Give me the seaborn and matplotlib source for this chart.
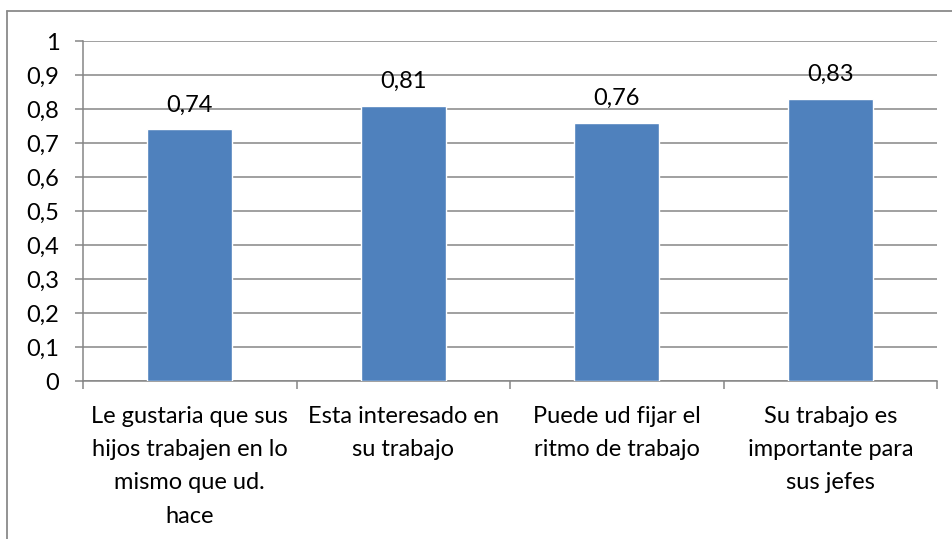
import matplotlib
matplotlib.use("Agg")
import matplotlib.pyplot as plt
from matplotlib.lines import Line2D
from matplotlib.ticker import FixedLocator, FuncFormatter
import seaborn as sns
import pandas as pd

categories = [
    "Le gustaria que sus\nhijos trabajen en lo\nmismo que ud.\nhace",
    "Esta interesado en\nsu trabajo",
    "Puede ud fijar el\nritmo de trabajo",
    "Su trabajo es\nimportante para\nsus jefes",
]
values = [0.74, 0.81, 0.76, 0.83]
y_ticks = [0, 0.1, 0.2, 0.3, 0.4, 0.5, 0.6, 0.7, 0.8, 0.9, 1]

sns.set_theme(style="white")
plt.rcParams["font.family"] = ["Lato", "DejaVu Sans"]

W, H = 952, 539
fig = plt.figure(figsize=(W / 100, H / 100), dpi=100)
fig.patch.set_facecolor("white")

# outer chart frame (top and left edges)
frame_color = "#8a8a8a"
fig.add_artist(Line2D([7 / W, 1.0], [1 - 11 / H, 1 - 11 / H], color=frame_color, lw=1.3, transform=fig.transFigure))
fig.add_artist(Line2D([7 / W, 7 / W], [1 - 11 / H, 0.0], color=frame_color, lw=1.3, transform=fig.transFigure))

left, right, top, bottom = 83, 937, 41, 381
ax = fig.add_axes([left / W, 1 - bottom / H, (right - left) / W, (bottom - top) / H])

df = pd.DataFrame({"cat": categories, "val": values})
sns.barplot(data=df, x="cat", y="val", color="#4F81BD", saturation=1, width=0.4, ax=ax, zorder=3)

ax.set_xlim(-0.5, len(categories) - 0.5)
ax.set_ylim(0, 1)
ax.set_xlabel("")
ax.set_ylabel("")

grid_color = "#868686"
ax.yaxis.set_major_locator(FixedLocator(y_ticks))
ax.yaxis.set_major_formatter(FuncFormatter(lambda v, p: f"{v:g}".replace(".", ",")))
ax.grid(axis="y", color=grid_color, lw=1.1, zorder=0)
ax.set_axisbelow(True)

for s in ["top", "right"]:
    ax.spines[s].set_visible(False)
for s in ["left", "bottom"]:
    ax.spines[s].set_color(grid_color)
    ax.spines[s].set_linewidth(1.1)

ax.tick_params(axis="y", which="major", length=6, width=1.1, color=grid_color, direction="out",
               labelsize=17, labelcolor="black", pad=11, left=True)
# category boundaries carry the tick marks; labels sit at the centres
ax.xaxis.set_minor_locator(FixedLocator([i - 0.5 for i in range(len(categories) + 1)]))
ax.tick_params(axis="x", which="minor", length=6, width=1.1, color=grid_color, direction="out", bottom=True)
ax.tick_params(axis="x", which="major", length=0, labelsize=17, labelcolor="black", pad=18)
for lbl in ax.get_xticklabels():
    lbl.set_horizontalalignment("center")
    lbl.set_multialignment("center")
    lbl.set_linespacing(1.72)

for i, v in enumerate(values):
    ax.annotate(f"{v:.2f}".replace(".", ","), (i, v), xytext=(0, 10), textcoords="offset points",
                ha="center", va="bottom", fontsize=17, color="black", zorder=4)

fig.savefig("out.png", dpi=100, facecolor="white")
